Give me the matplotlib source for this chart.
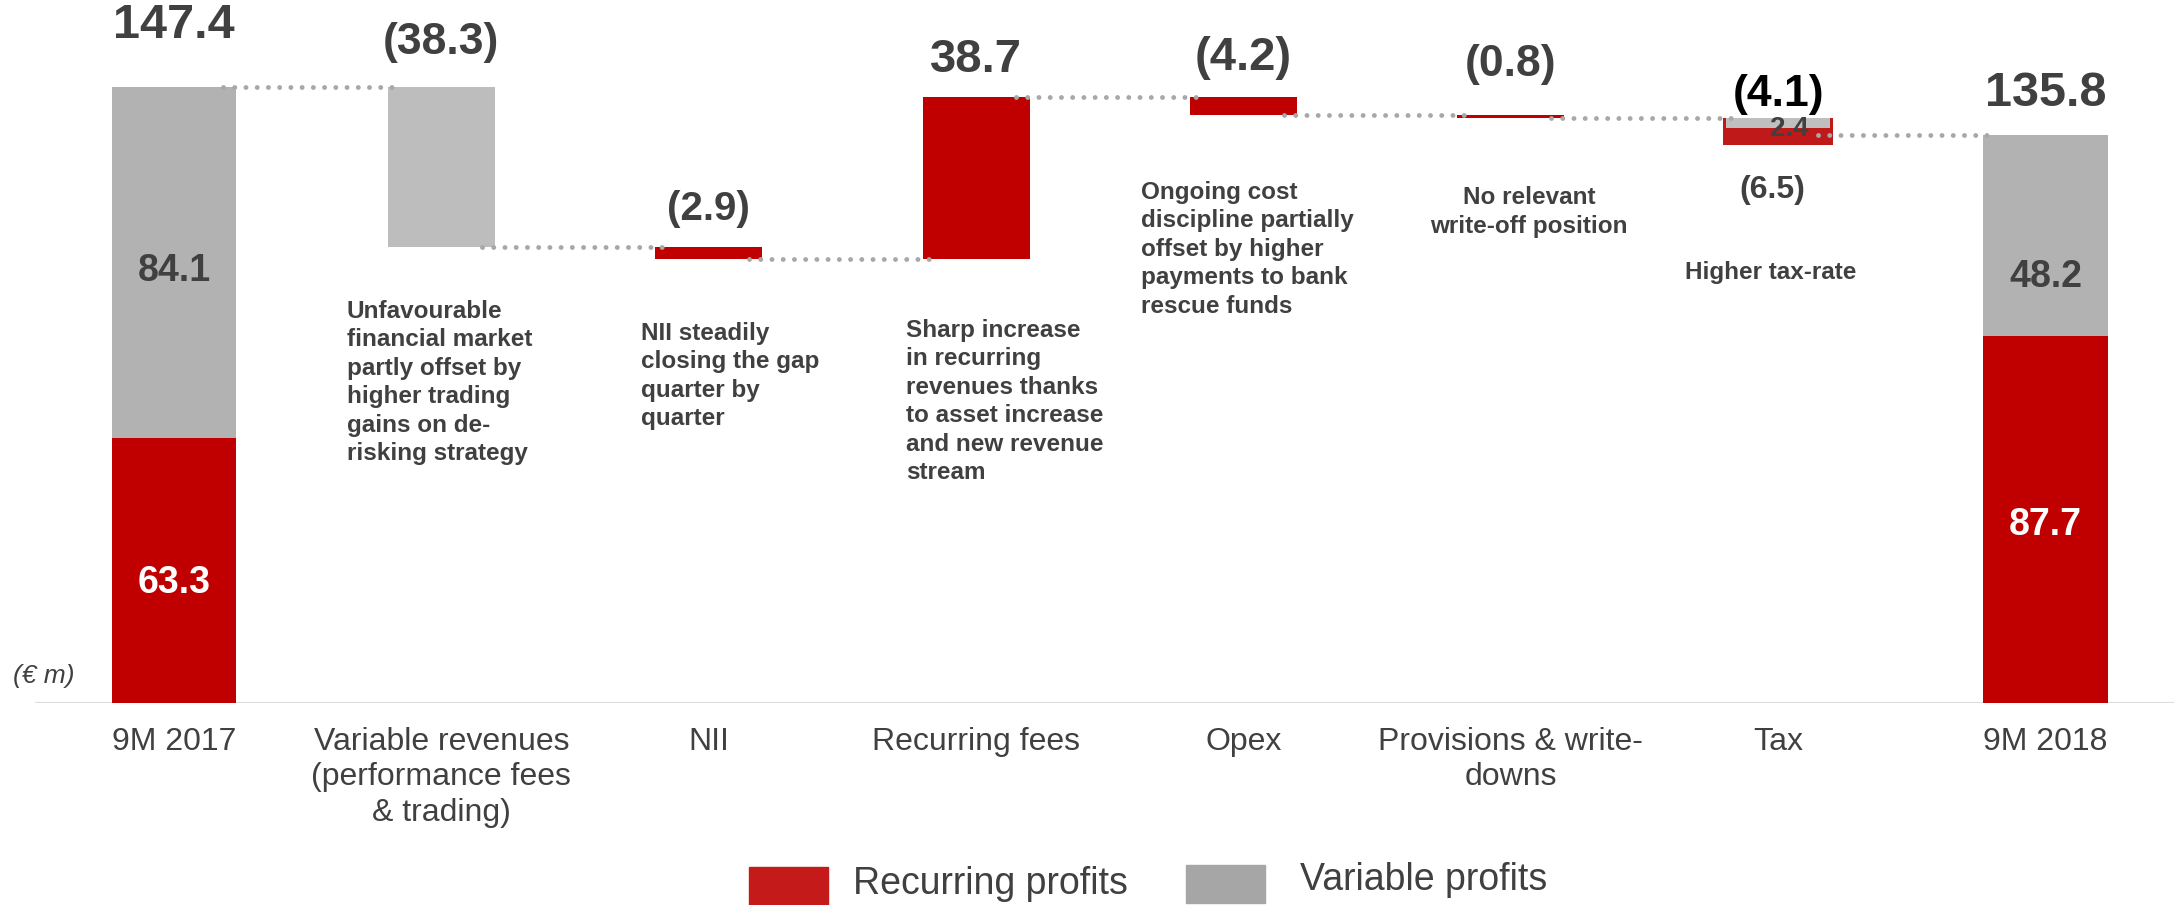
import matplotlib.pyplot as plt
from matplotlib.patches import Rectangle

plt.rcParams['font.family'] = ['Liberation Sans', 'DejaVu Sans']

# --- datos ---
categories = ['9M 2017', 'Variable revenues\n(performance fees\n& trading)', 'NII',
              'Recurring fees', 'Opex', 'Provisions & write-\ndowns', 'Tax', '9M 2018']
start_total = 147.4
start_recurring = 63.3
start_variable = 84.1
end_total = 135.8
end_recurring = 87.7
end_variable = 48.2
delta_values = [-38.3, -2.9, 38.7, -4.2, -0.8]   # variable rev, NII, fees, opex, provisions
delta_kind = ['variable', 'recurring', 'recurring', 'recurring', 'recurring']
tax_variable = 2.4
tax_recurring = -6.5
tax_net = -4.1

notes = [
    'Unfavourable\nfinancial market\npartly offset by\nhigher trading\ngains on de-\nrisking strategy',
    'NII steadily\nclosing the gap\nquarter by\nquarter',
    'Sharp increase\nin recurring\nrevenues thanks\nto asset increase\nand new revenue\nstream',
    'Ongoing cost\ndiscipline partially\noffset by higher\npayments to bank\nrescue funds',
    'No relevant\nwrite-off position',
    'Higher tax-rate',
]

RED = '#C00000'
RED2 = '#C0191A'
GREY = '#B2B2B2'
GREY_LIGHT = '#BDBDBD'
DARK = '#404040'
W, H = 2174, 905


def fmt(v):
    return '({:.1f})'.format(abs(v)) if v < 0 else '{:.1f}'.format(v)


def fpx(x, y):
    # pixel -> fraccion de figura
    return x / W, 1 - y / H


fig = plt.figure(figsize=(W / 100, H / 100), dpi=100)
ax = fig.add_axes([35 / W, 202 / H, 1 - 35 / W, 703 / H])
ax.set_xlim(-0.52, 7.48)
ax.set_ylim(0, 703 / 4.18)
for s in ax.spines.values():
    s.set_visible(False)
ax.set_yticks([])
ax.axhline(0, color='#DDDDDD', lw=1.6, zorder=0)

w_end, w_mid = 0.467, 0.40

# barra inicial
ax.bar(0, start_recurring, width=w_end, color=RED, zorder=2)
ax.bar(0, start_variable, bottom=start_recurring, width=w_end, color=GREY, zorder=2)

# barras intermedias
level = start_total
levels_after = [start_total]
label_off = [32, 27, 27, 28, 36]
label_size = [32, 29, 34, 34, 32]
for i, d in enumerate(delta_values):
    x = i + 1
    bottom = min(level, level + d)
    col = GREY_LIGHT if delta_kind[i] == 'variable' else RED
    ax.bar(x, abs(d), bottom=bottom, width=w_mid, color=col, zorder=2)
    top = bottom + abs(d)
    ax.annotate(fmt(d), (x, top), xytext=(0, label_off[i]), textcoords='offset points',
                ha='center', va='center', fontsize=label_size[i], fontweight='bold', color=DARK)
    level += d
    levels_after.append(level)

# impuestos: parte variable (gris) sobre la parte recurrente (roja)
tax_x = 6
ax.bar(tax_x, abs(tax_recurring), bottom=level + tax_recurring, width=w_mid + 0.01,
       color=RED2, zorder=2)
ax.bar(tax_x, tax_variable, bottom=level - tax_variable, width=w_mid - 0.01,
       color='#BFBFBF', zorder=3)
ax.annotate(fmt(tax_net), (tax_x, level), xytext=(0, 17), textcoords='offset points',
            ha='center', va='center', fontsize=32, fontweight='bold', color='black')
ax.annotate(fmt(tax_variable), (tax_x, level - tax_variable / 2), xytext=(8, -4),
            textcoords='offset points', ha='center', va='center', fontsize=20,
            fontweight='bold', color=DARK, zorder=6)
ax.annotate(fmt(tax_recurring), (tax_x, level + tax_recurring), xytext=(-4, -32),
            textcoords='offset points', ha='center', va='center', fontsize=23,
            fontweight='bold', color=DARK)
level = level + tax_net
levels_after.append(level)

# barra final
ax.bar(7, end_recurring, width=w_end, color=RED, zorder=2)
ax.bar(7, end_variable, bottom=end_recurring, width=w_end, color=GREY, zorder=2)

# totales
ax.annotate(fmt(start_total), (0, start_total), xytext=(0, 44), textcoords='offset points',
            ha='center', va='center', fontsize=35, fontweight='bold', color=DARK)
ax.annotate(fmt(end_total), (7, end_total), xytext=(0, 30), textcoords='offset points',
            ha='center', va='center', fontsize=35, fontweight='bold', color=DARK)
ax.annotate(fmt(start_variable), (0, start_recurring + start_variable / 2), xytext=(0, -6),
            textcoords='offset points', ha='center', va='center', fontsize=27,
            fontweight='bold', color=DARK, zorder=4)
ax.annotate(fmt(start_recurring), (0, start_recurring / 2), xytext=(0, -9),
            textcoords='offset points', ha='center', va='center', fontsize=27,
            fontweight='bold', color='white', zorder=4)
ax.annotate(fmt(end_variable), (7, end_recurring + end_variable / 2), xytext=(0, -30),
            textcoords='offset points', ha='center', va='center', fontsize=27,
            fontweight='bold', color=DARK, zorder=4)
ax.annotate(fmt(end_recurring), (7, end_recurring / 2), xytext=(0, -4),
            textcoords='offset points', ha='center', va='center', fontsize=27,
            fontweight='bold', color='white', zorder=4)

# lineas punteadas de conexion
widths = [w_end] + [w_mid] * 6 + [w_end]
for i, lv in enumerate(levels_after):
    x0 = i + widths[i] / 2 - 0.05
    x1 = i + 1 - widths[i + 1] / 2 + 0.05
    ax.plot([x0, x1], [lv, lv], color='#A8A8A8', lw=3.5, linestyle=(0, (0.01, 2.3)),
            dash_capstyle='round', zorder=5)

ax.set_xticks(range(len(categories)))
ax.set_xticklabels(categories, fontsize=23, color=DARK, linespacing=1.25)
ax.tick_params(axis='x', length=0, pad=17)

# comentarios
note_kw = dict(fontsize=17.5, fontweight='bold', color=DARK, linespacing=1.3)
fig.text(*fpx(347, 300), notes[0], ha='left', va='top', **note_kw)
fig.text(*fpx(641, 322), notes[1], ha='left', va='top', **note_kw)
fig.text(*fpx(906, 319), notes[2], ha='left', va='top', **note_kw)
fig.text(*fpx(1141, 181), notes[3], ha='left', va='top', **note_kw)
fig.text(*fpx(1529, 212), notes[4], ha='center', va='center', **note_kw)
fig.text(*fpx(1771, 273), notes[5], ha='center', va='center', **note_kw)

fig.text(*fpx(44, 676), '(€ m)', ha='center', va='center', fontsize=19, style='italic', color=DARK)

# leyenda
fig.patches.append(Rectangle(fpx(749, 905), 79 / W, 38 / H, transform=fig.transFigure,
                             color='#C41A1A'))
fig.text(*fpx(853, 884), 'Recurring profits', ha='left', va='center', fontsize=27, color=DARK)
fig.patches.append(Rectangle(fpx(1186, 903), 79 / W, 38 / H, transform=fig.transFigure,
                             color='#A6A6A6'))
fig.text(*fpx(1300, 880), 'Variable profits', ha='left', va='center', fontsize=27, color=DARK)

fig.savefig('out.png', dpi=100)
